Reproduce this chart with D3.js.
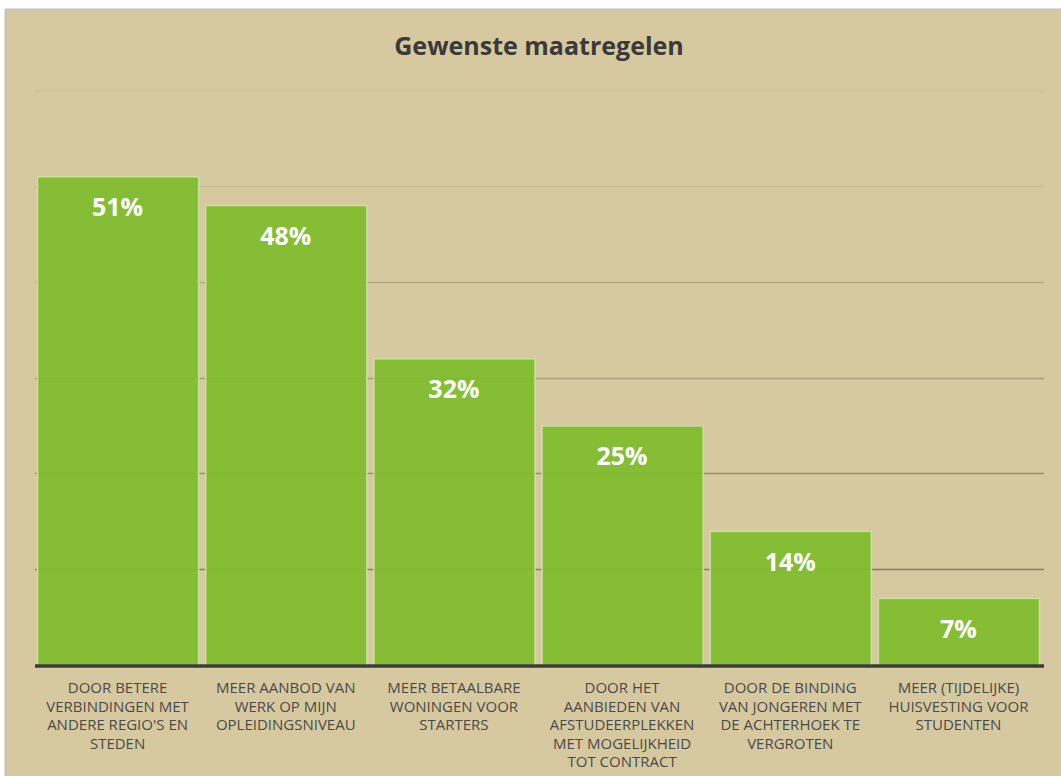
<!DOCTYPE html>
<html>
<head>
<meta charset="utf-8">
<script src="https://cdn.jsdelivr.net/npm/d3@7"></script>
<style>
  body { margin: 0; background: #fff; }
  svg { display: block; }
</style>
</head>
<body>
<svg width="1061" height="776"></svg>
<script>
// categories, each split into the lines shown under the bar
var categories = [
    ["DOOR BETERE", "VERBINDINGEN MET", "ANDERE REGIO'S EN", "STEDEN"],
    ["MEER AANBOD VAN", "WERK OP MIJN", "OPLEIDINGSNIVEAU"],
    ["MEER BETAALBARE", "WONINGEN VOOR", "STARTERS"],
    ["DOOR HET", "AANBIEDEN VAN", "AFSTUDEERPLEKKEN", "MET MOGELIJKHEID", "TOT CONTRACT"],
    ["DOOR DE BINDING", "VAN JONGEREN MET", "DE ACHTERHOEK TE", "VERGROTEN"],
    ["MEER (TIJDELIJKE)", "HUISVESTING VOOR", "STUDENTEN"]
];
var values = [51, 48, 32, 25, 14, 7];
var gridTicks = [10, 20, 30, 40, 50, 60];
var gridOpacity = [0.75, 0.6, 0.45, 0.3, 0.12, 0.06];

var svg = d3.select("svg"),
    margin = {top: 90, right: 20, bottom: 111, left: 35},
    width = +svg.attr("width") - margin.left - margin.right,
    height = +svg.attr("height") - margin.top - margin.bottom;

// chart panel
svg.append("rect")
    .attr("x", 5.5).attr("y", 9.5)
    .attr("width", 1070).attr("height", 780)
    .attr("fill", "#d6c9a0")
    .attr("stroke", "#c4c4c4")
    .attr("stroke-width", 2);

svg.append("text")
    .attr("x", 539).attr("y", 55)
    .attr("text-anchor", "middle")
    .attr("font-family", "'Open Sans', sans-serif")
    .attr("font-weight", "bold")
    .attr("font-size", 25)
    .attr("fill", "#3a3a3a")
    .text("Gewenste maatregelen");

var x = d3.scaleBand()
    .domain(d3.range(categories.length))
    .range([0, width])
    .paddingInner(0.042)
    .paddingOuter(0.012);
var y = d3.scaleLinear().domain([0, 60]).range([height, 0]);

var g = svg.append("g")
    .attr("transform", "translate(" + margin.left + "," + margin.top + ")");

// gridlines, fading towards the top
g.selectAll(".grid")
    .data(gridTicks)
    .enter().append("line")
    .attr("class", "grid")
    .attr("x1", 0).attr("x2", width + 3)
    .attr("y1", function (d) { return Math.round(y(d)) + 0.5; })
    .attr("y2", function (d) { return Math.round(y(d)) + 0.5; })
    .attr("stroke", "#6e6650")
    .attr("stroke-width", 1.5)
    .attr("stroke-opacity", function (d, i) { return gridOpacity[i]; });

g.selectAll(".bar")
    .data(values)
    .enter().append("rect")
    .attr("class", "bar")
    .attr("x", function (d, i) { return x(i) + 0.5; })
    .attr("y", function (d) { return y(d) + 0.5; })
    .attr("width", x.bandwidth())
    .attr("height", function (d) { return height - y(d); })
    .attr("fill", "#7fbc2c")
    .attr("fill-opacity", 0.93)
    .attr("stroke", "#c9e2a0")
    .attr("stroke-width", 1.5);

g.selectAll(".value")
    .data(values)
    .enter().append("text")
    .attr("class", "value")
    .attr("x", function (d, i) { return x(i) + x.bandwidth() / 2; })
    .attr("y", function (d) { return y(d) + 40; })
    .attr("text-anchor", "middle")
    .attr("font-family", "'Open Sans', sans-serif")
    .attr("font-weight", "bold")
    .attr("font-size", 25)
    .attr("fill", "#ffffff")
    .text(function (d) { return d + "%"; });

// baseline
g.append("line")
    .attr("x1", 0).attr("x2", width + 3)
    .attr("y1", height + 1).attr("y2", height + 1)
    .attr("stroke", "#3b3b3b")
    .attr("stroke-width", 3.5);

// category labels
var labels = g.selectAll(".cat")
    .data(categories)
    .enter().append("text")
    .attr("class", "cat")
    .attr("text-anchor", "middle")
    .attr("font-family", "'Open Sans', sans-serif")
    .attr("font-size", 15)
    .attr("fill", "#4a4a4a")
    .attr("transform", function (d, i) {
        return "translate(" + (x(i) + x.bandwidth() / 2) + "," + (height + 28) + ")";
    });

labels.selectAll("tspan")
    .data(function (d) { return d; })
    .enter().append("tspan")
    .attr("x", 0)
    .attr("dy", function (d, i) { return i === 0 ? 0 : 18.5; })
    .text(function (d) { return d; });
</script>
</body>
</html>
